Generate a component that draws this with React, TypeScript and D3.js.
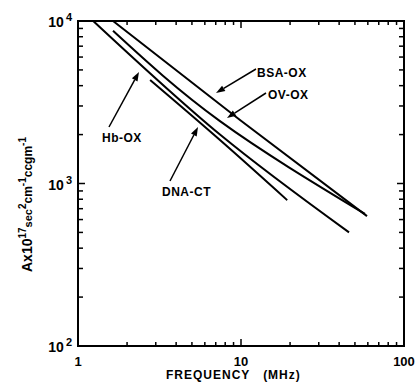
import React, { useEffect, useRef } from "react";
import * as d3 from "d3";

// curve points: [frequency MHz, A x 10^17]
const bsaOx: [number, number][] = [
  [1.64, 10000],
  [9.86, 2460],
  [59.3, 630],
];
const ovOx: [number, number][] = [
  [1.64, 8700],
  [7.43, 2420],
  [57.6, 650],
];
const hbOx: [number, number][] = [
  [1.24, 10000],
  [7.43, 2000],
  [46, 500],
];
const dnaCt: [number, number][] = [
  [2.77, 4330],
  [7.43, 1850],
  [19.2, 790],
];

const xTickLabels = ["1", "10", "100"];
const yTickLabels = ["2", "3", "4"]; // exponents of 10

export default function App() {
  const svgRef = useRef<SVGSVGElement | null>(null);

  useEffect(() => {
    if (!svgRef.current) return;
    const width = 420;
    const height = 388;
    const left = 78;
    const right = 404;
    const top = 21;
    const bottom = 346;
    const font = "'Liberation Sans', Arial, sans-serif";

    const svg = d3.select(svgRef.current);
    svg.selectAll("*").remove();
    svg.attr("width", width).attr("height", height);

    const x = d3.scaleLog().domain([1, 100]).range([left, right]);
    const y = d3.scaleLog().domain([100, 10000]).range([bottom, top]);

    // frame
    svg
      .append("rect")
      .attr("x", left)
      .attr("y", top)
      .attr("width", right - left)
      .attr("height", bottom - top)
      .attr("fill", "none")
      .attr("stroke", "#000")
      .attr("stroke-width", 2);

    // minor / major ticks
    const isMajor = (t: number) =>
      Math.abs(Math.log10(t) - Math.round(Math.log10(t))) < 1e-6;
    const tickG = svg.append("g").attr("stroke", "#000").attr("stroke-width", 1.5);
    x.ticks(20).forEach((t) => {
      const len = isMajor(t) ? 7 : 4;
      tickG.append("line").attr("x1", x(t)).attr("x2", x(t)).attr("y1", bottom).attr("y2", bottom - len);
      tickG.append("line").attr("x1", x(t)).attr("x2", x(t)).attr("y1", top).attr("y2", top + len);
    });
    y.ticks(20).forEach((t) => {
      const len = isMajor(t) ? 7 : 5;
      tickG.append("line").attr("x1", left).attr("x2", left + len).attr("y1", y(t)).attr("y2", y(t));
      tickG.append("line").attr("x1", right).attr("x2", right - len).attr("y1", y(t)).attr("y2", y(t));
    });

    // x tick labels
    xTickLabels.forEach((s) => {
      svg
        .append("text")
        .attr("x", x(+s))
        .attr("y", 366)
        .attr("text-anchor", "middle")
        .attr("font-family", font)
        .attr("font-weight", "bold")
        .attr("font-size", 13)
        .text(s);
    });

    // y tick labels 10^n
    yTickLabels.forEach((e) => {
      const t = svg
        .append("text")
        .attr("x", 72)
        .attr("y", y(Math.pow(10, +e)) + 6)
        .attr("text-anchor", "end")
        .attr("font-family", font)
        .attr("font-weight", "bold")
        .attr("font-size", 14);
      t.append("tspan").text("10");
      t.append("tspan").attr("font-size", 11).attr("dy", -6).attr("dx", 2).text(e);
    });

    // curves
    const line = d3
      .line<[number, number]>()
      .x((d) => x(d[0]))
      .y((d) => y(d[1]))
      .curve(d3.curveNatural);
    [bsaOx, ovOx, hbOx, dnaCt].forEach((s) => {
      svg
        .append("path")
        .attr("d", line(s)!)
        .attr("fill", "none")
        .attr("stroke", "#000")
        .attr("stroke-width", 2);
    });

    // labels with arrows
    const labels = [
      { text: "BSA-OX", tx: 257, ty: 77, from: [256, 69], to: [216, 93] },
      { text: "OV-OX", tx: 268, ty: 99, from: [266, 93], to: [227, 118] },
      { text: "Hb-OX", tx: 102, ty: 142, from: [109, 127], to: [139, 72] },
      { text: "DNA-CT", tx: 162, ty: 196, from: [170, 181], to: [198, 127] },
    ];
    labels.forEach((l) => {
      svg
        .append("text")
        .attr("x", l.tx)
        .attr("y", l.ty)
        .attr("font-family", font)
        .attr("font-weight", "bold")
        .attr("font-size", 12)
        .attr("letter-spacing", 0.5)
        .text(l.text);
      const [x1, y1] = l.from;
      const [x2, y2] = l.to;
      const ang = Math.atan2(y2 - y1, x2 - x1);
      const hl = 9;
      const hw = 3.2;
      const bx = x2 - hl * Math.cos(ang);
      const by = y2 - hl * Math.sin(ang);
      svg
        .append("line")
        .attr("x1", x1)
        .attr("y1", y1)
        .attr("x2", bx)
        .attr("y2", by)
        .attr("stroke", "#000")
        .attr("stroke-width", 1.5);
      svg
        .append("path")
        .attr(
          "d",
          `M${x2},${y2}L${bx - hw * Math.sin(ang)},${by + hw * Math.cos(ang)}L${bx + hw * Math.sin(ang)},${by - hw * Math.cos(ang)}Z`
        )
        .attr("fill", "#000");
    });

    // x axis title
    svg
      .append("text")
      .attr("x", 166)
      .attr("y", 379)
      .attr("font-family", font)
      .attr("font-weight", "bold")
      .attr("font-size", 12)
      .attr("letter-spacing", 1)
      .style("white-space", "pre")
      .text("FREQUENCY   (MHz)");

    // y axis title
    const yt = svg
      .append("text")
      .attr("transform", "translate(32,272) rotate(-90)")
      .attr("font-family", font)
      .attr("font-weight", "bold")
      .attr("font-size", 14);
    yt.append("tspan").text("Ax10");
    yt.append("tspan").attr("font-size", 10).attr("dy", -6).text("17");
    yt.append("tspan").attr("font-size", 11).attr("dy", 6).text("sec");
    yt.append("tspan").attr("font-size", 10).attr("dy", -6).text("2");
    yt.append("tspan").attr("font-size", 12).attr("dy", 6).text("cm");
    yt.append("tspan").attr("font-size", 10).attr("dy", -6).text("-1");
    yt.append("tspan").attr("font-size", 12).attr("dy", 6).text("ccgm");
    yt.append("tspan").attr("font-size", 10).attr("dy", -6).text("-1");
  }, []);

  return <svg ref={svgRef} style={{ position: "absolute", left: 0, top: 0 }} />;
}
